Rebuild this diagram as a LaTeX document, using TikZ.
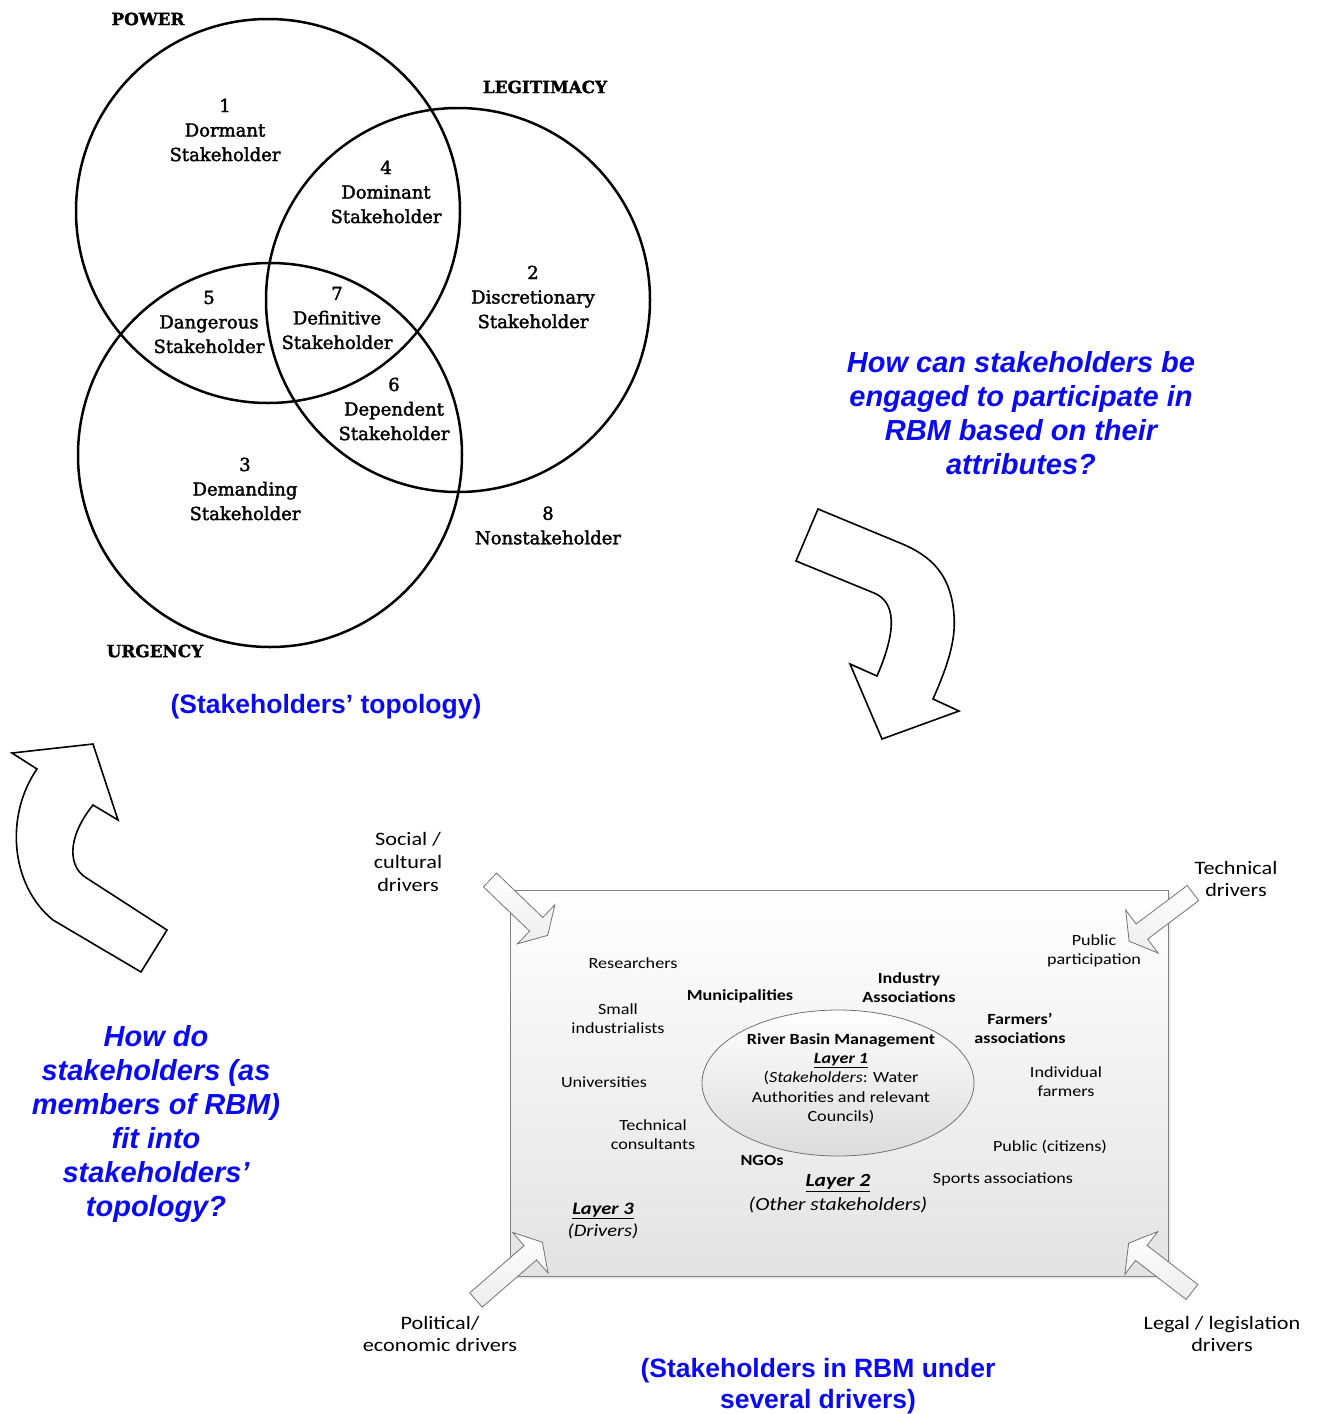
\documentclass[tikz,border=0pt]{standalone}
\usepackage{fontspec}
\setmainfont{Liberation Sans}
\newfontfamily\vennfont[FakeBold=2]{DejaVu Serif}
\newfontfamily\vennhead[FakeBold=1.5]{DejaVu Serif Bold}
\newfontfamily\calfont[FakeStretch=1.17]{Carlito}
\usetikzlibrary{shapes.geometric}
\definecolor{qblue}{RGB}{10,10,240}

% straight block arrow pointing at the stakeholder box: x, y, angle, length
\newcommand\driverarrow[4]{%
  \begin{scope}[shift={(#1,#2)}, rotate=#3]
    \draw[dirarrow] (0,-9.5) -- ({#4-16},-9.5) -- ({#4-16},-27) -- (#4,0) -- ({#4-16},27) -- ({#4-16},9.5) -- (0,9.5) -- cycle;
  \end{scope}}

\begin{document}
\begin{tikzpicture}[x=1pt,y=-1pt,
  venn/.style={draw=black, line width=2.5pt},
  vlabel/.style={font=\vennfont\fontsize{18}{24.5}\selectfont, align=center, inner sep=0},
  vhead/.style={font=\vennhead\fontsize{16.8}{18}\selectfont, inner sep=0},
  question/.style={text=qblue, font=\bfseries\itshape\fontsize{29}{34}\selectfont, align=center, inner sep=0},
  caption/.style={text=qblue, font=\bfseries\fontsize{26.5}{31}\selectfont, align=center, inner sep=0},
  actor/.style={font=\calfont\fontsize{15.5}{19.25}\selectfont, align=center, inner sep=0},
  actorb/.style={font=\calfont\bfseries\fontsize{15.5}{19.25}\selectfont, align=center, inner sep=0},
  layer/.style={font=\calfont\itshape\fontsize{18.5}{24}\selectfont, align=center, inner sep=0},
  driver/.style={font=\calfont\fontsize{19}{22.8}\selectfont, align=center, inner sep=0},
  bigarrow/.style={draw=black, line width=1.6pt, fill=white, line join=miter},
  dirarrow/.style={draw=black!55, line width=0.8pt, top color=white, bottom color=black!7},
]
\useasboundingbox (0,0) rectangle (1318,1414);

% ---------- Venn diagram of stakeholder attributes ----------
\draw[venn] (268,211) circle [radius=192pt];
\draw[venn] (458,300) circle [radius=192pt];
\draw[venn] (270,455) circle [radius=192pt];

\node[vhead] (power) at (148,19) {POWER};
\node[vhead] (legit) at (545,87) {LEGITIMACY};
\node[vhead] (urgency) at (155,651) {URGENCY};

\node[vlabel] (s1) at (225,130) {1\\Dormant\\Stakeholder};
\node[vlabel] (s4) at (386,192) {4\\Dominant\\Stakeholder};
\node[vlabel] (s2) at (533,297) {2\\Discretionary\\Stakeholder};
\node[vlabel] (s5) at (209,322) {5\\Dangerous\\Stakeholder};
\node[vlabel] (s7) at (337,318) {7\\Definitive\\Stakeholder};
\node[vlabel] (s6) at (394,409) {6\\Dependent\\Stakeholder};
\node[vlabel] (s3) at (245,489) {3\\Demanding\\Stakeholder};
\node[vlabel] (s8) at (548,525.5) {8\\Nonstakeholder};

\node[caption] (topo) at (326,707) {(Stakeholders’ topology)};

% ---------- questions ----------
\node[question] (q1) at (1021,413) {How can stakeholders be\\engaged to participate in\\RBM based on their\\attributes?};
\node[question] (q2) at (156,1123.5) {How do\\stakeholders (as\\members of RBM)\\fit into\\stakeholders’\\topology?};

% ---------- curved block arrows ----------
\draw[bigarrow] (818,509) -- (796,561) -- (874,593)
  .. controls (896,602) and (897,630) .. (877,676)
  -- (850,664) -- (882,739) -- (959,711) -- (933,699)
  .. controls (948,665) and (956,640) .. (954,615)
  .. controls (951,575) and (932,556) .. (900,543) -- cycle;

\draw[bigarrow] (141,972) -- (167,930) -- (85,877)
  .. controls (70,867) and (65,840) .. (93,805)
  -- (118,820) -- (93,744) -- (12,753) -- (37,769)
  .. controls (5,815) and (10,885) .. (53,920) -- cycle;

% ---------- stakeholders in RBM ----------
\fill[black!7] (513,893) rectangle (1171,1279);
\draw[draw=black!50, line width=0.8pt, top color=white, bottom color=black!11] (510,890) rectangle (1168,1276);
\draw[draw=black!55, line width=0.8pt, top color=white, bottom color=black!14] (838,1083) ellipse [x radius=136pt, y radius=73pt];

\node[actorb] (rbm) at (841,1078.5) {River Basin Management\\\underline{\textit{Layer 1}}\\
  \mdseries(\textit{Stakeholders}: Water\\\mdseries Authorities and relevant\\\mdseries Councils)};

\node[actor] (researchers) at (633,963) {Researchers};
\node[actorb] (municip) at (740,996) {Municipalities};
\node[actorb] (industry) at (909,987.5) {Industry\\Associations};
\node[actor] (publicp) at (1094,951) {Public\\participation};
\node[actor] (small) at (618,1018.5) {Small\\industrialists};
\node[actorb] (farmassoc) at (1020,1028.5) {Farmers’\\associations};
\node[actor] (indfarm) at (1066,1081.5) {Individual\\farmers};
\node[actor] (univ) at (604,1082) {Universities};
\node[actor] (techcons) at (653,1134.5) {Technical\\consultants};
\node[actor] (citizens) at (1050,1147) {Public (citizens)};
\node[actorb] (ngos) at (762,1160) {NGOs};
\node[actor] (sports) at (1003,1179) {Sports associations};
\node[layer] (layer2) at (838,1194) {\underline{\textbf{Layer 2}}\\(Other stakeholders)};
\node[layer, font=\calfont\itshape\fontsize{17.5}{22}\selectfont] (layer3) at (603,1221) {\underline{\textbf{Layer 3}}\\(Drivers)};

% ---------- drivers ----------
\driverarrow{490}{880}{-43.8}{80}
\driverarrow{1193}{893}{-143}{80}
\driverarrow{476}{1300}{41}{88}
\driverarrow{1192}{1292}{142.4}{80}

\node[driver] (social) at (408,862) {Social /\\cultural\\drivers};
\node[driver] (technical) at (1236,879) {Technical\\drivers};
\node[driver] (political) at (440,1334) {Political/\\economic drivers};
\node[driver] (legal) at (1222,1334) {Legal / legislation\\drivers};

\node[caption] (rbmcap) at (818,1386) {(Stakeholders in RBM under\\several drivers)};
\end{tikzpicture}
\end{document}
